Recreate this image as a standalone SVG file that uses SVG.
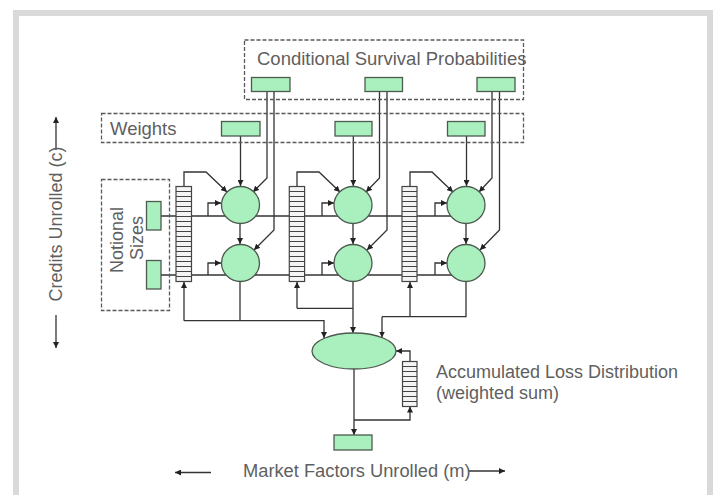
<svg xmlns="http://www.w3.org/2000/svg" width="715" height="495" viewBox="0 0 715 495">
<defs>
<style>
.t{font-family:"Liberation Sans",Arial,sans-serif;fill:#5f5f5f;}
.box{fill:none;stroke:#5a5a5a;stroke-width:1.3;stroke-dasharray:4 2;}
.g{fill:#aaf0be;stroke:#4d5a50;stroke-width:1.3;}
.ln{fill:none;stroke:#333;stroke-width:1.3;}
.lna{fill:none;stroke:#333;stroke-width:1.3;marker-end:url(#ah);}
.reg{fill:url(#stripes);stroke:#444;stroke-width:1.2;}
</style>
<marker id="ah" viewBox="0 0 10 10" refX="10" refY="5" markerWidth="6" markerHeight="6" markerUnits="userSpaceOnUse" orient="auto">
<path d="M0,0 L10,5 L0,10 z" fill="#222"/>
</marker>
<pattern id="stripes" patternUnits="userSpaceOnUse" x="0" y="184" width="20" height="5">
<rect width="20" height="5" fill="#f4f4f4"/>
<line x1="0" y1="2.5" x2="20" y2="2.5" stroke="#444" stroke-width="1"/>
</pattern>
</defs>
<rect width="715" height="495" fill="#fff"/>
<rect x="16" y="13" width="694" height="500" fill="none" stroke="#d9d9d9" stroke-width="6"/>

<g id="connectors">
<!-- row lines -->
<path class="ln" d="M161,216 H466"/>
<path class="ln" d="M161,275 H466"/>
<!-- column 1 -->
<path class="lna" d="M208,216 V203 H221"/>
<path class="lna" d="M208,275 V263 H221"/>
<path class="lna" d="M184,186.5 V172 H206 L227,192"/>
<path class="lna" d="M240.5,136 V186"/>
<path class="lna" d="M267,91.7 V178 L253,192"/>
<path class="lna" d="M274,91.7 V230 L254,250"/>
<path class="lna" d="M240,223.5 V244"/>
<!-- column 2 -->
<path class="lna" d="M322,216 V203 H334"/>
<path class="lna" d="M322,275 V263 H334"/>
<path class="lna" d="M297,186.5 V172 H319 L340,192"/>
<path class="lna" d="M353.3,136 V186"/>
<path class="lna" d="M379.5,91.7 V178 L366,192"/>
<path class="lna" d="M387,91.7 V230 L367,250"/>
<path class="lna" d="M353,223.5 V244"/>
<!-- column 3 -->
<path class="lna" d="M435,216 V203 H447"/>
<path class="lna" d="M435,275 V263 H447"/>
<path class="lna" d="M410,186.5 V172 H432 L453,192"/>
<path class="lna" d="M466.5,136 V186"/>
<path class="lna" d="M492,91.7 V178 L479,192"/>
<path class="lna" d="M499.5,91.7 V230 L480,250"/>
<path class="lna" d="M466,223.5 V244"/>
<!-- bottom gathering -->
<path class="lna" d="M184,320.7 V282"/>
<path class="ln" d="M240,281.5 V320.7"/>
<path class="lna" d="M184,320.7 H324 V338"/>
<path class="lna" d="M297,308.3 V282"/>
<path class="ln" d="M297,308.3 H353"/>
<path class="lna" d="M353,281.5 V333"/>
<path class="lna" d="M410,316.7 V282"/>
<path class="ln" d="M466,281.5 V316.7 H382"/>
<path class="lna" d="M382,316.7 V337.5"/>
<!-- accumulator loop -->
<path class="lna" d="M410,361.5 V351 H396"/>
<path class="lna" d="M354,369 V435"/>
<path class="lna" d="M354,420 H410 V406.5"/>
<!-- axis arrows -->
<path class="lna" d="M56,150 V117"/>
<path class="lna" d="M56,315 V348"/>
<path class="lna" d="M211,472.5 H175"/>
<path class="lna" d="M468,471 H505"/>
</g>

<g id="csp-group">
<rect class="box" x="244.5" y="40" width="279" height="59.5"/>
<text class="t" x="257" y="65" font-size="18.5">Conditional Survival Probabilities</text>
</g>
<g id="csp1"><rect class="g" x="251.5" y="77.5" width="38.5" height="14"/></g>
<g id="csp2"><rect class="g" x="365" y="77.5" width="37.5" height="14"/></g>
<g id="csp3"><rect class="g" x="477" y="77.5" width="38" height="14"/></g>

<g id="weights-group">
<rect class="box" x="101.5" y="113.5" width="422" height="29"/>
<text class="t" x="110" y="135" font-size="18.5">Weights</text>
</g>
<g id="w1"><rect class="g" x="221.5" y="121.5" width="38.5" height="14.5"/></g>
<g id="w2"><rect class="g" x="335" y="121.5" width="37" height="14.5"/></g>
<g id="w3"><rect class="g" x="447.5" y="121.5" width="37.5" height="14.5"/></g>

<g id="notional-group">
<rect class="box" x="101.5" y="179.5" width="68" height="131"/>
<text class="t" font-size="18" text-anchor="middle" transform="translate(123,240) rotate(-90)">Notional</text>
<text class="t" font-size="18" text-anchor="middle" transform="translate(143,238) rotate(-90)">Sizes</text>
</g>
<g id="n1"><rect class="g" x="146.5" y="201.5" width="14.5" height="28.5"/></g>
<g id="n2"><rect class="g" x="146.5" y="260.5" width="14.5" height="28.5"/></g>

<g id="reg1"><rect class="reg" x="176" y="186.5" width="15.5" height="95"/></g>
<g id="reg2"><rect class="reg" x="289.3" y="186.5" width="15.3" height="95"/></g>
<g id="reg3"><rect class="reg" x="402" y="186.5" width="15" height="95"/></g>

<g id="c11"><ellipse class="g" cx="240.5" cy="205" rx="19" ry="18.5"/></g>
<g id="c12"><ellipse class="g" cx="353" cy="205" rx="19" ry="18.5"/></g>
<g id="c13"><ellipse class="g" cx="466" cy="205" rx="19" ry="18.5"/></g>
<g id="c21"><ellipse class="g" cx="240.5" cy="263" rx="19" ry="18.5"/></g>
<g id="c22"><ellipse class="g" cx="353" cy="263" rx="19" ry="18.5"/></g>
<g id="c23"><ellipse class="g" cx="466" cy="263" rx="19" ry="18.5"/></g>

<g id="sum"><ellipse class="g" cx="354" cy="351" rx="42" ry="18"/></g>
<g id="acc-reg">
<rect class="reg" x="402.5" y="361.5" width="14.5" height="45"/>
<text class="t" x="436" y="377.5" font-size="18">Accumulated Loss Distribution</text>
<text class="t" x="436" y="399" font-size="18">(weighted sum)</text>
</g>
<g id="out"><rect class="g" x="334" y="435" width="38" height="15"/></g>

<g id="axes">
<text class="t" font-size="18" text-anchor="middle" transform="translate(62,224) rotate(-90)">Credits Unrolled (c)</text>
<text class="t" x="243" y="477" font-size="18.3">Market Factors Unrolled (m)</text>
</g>
</svg>
